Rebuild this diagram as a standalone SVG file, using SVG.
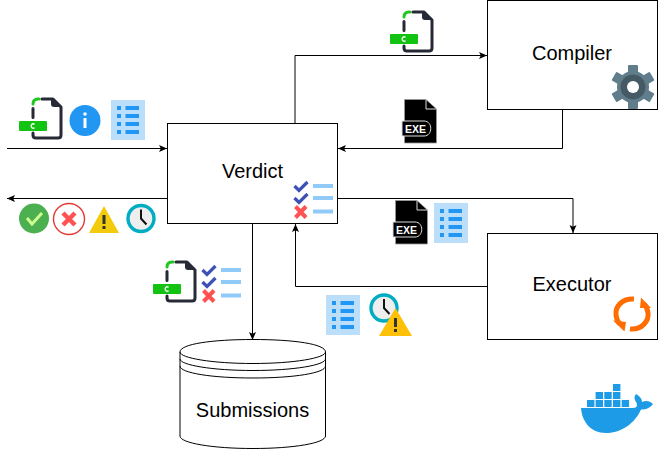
<svg xmlns="http://www.w3.org/2000/svg" width="658" height="450" viewBox="0 0 658 450">
<style>
.box{fill:#fff;stroke:#000;stroke-width:1}
.lbl{font-family:"Liberation Sans",Arial,sans-serif;font-size:20px;fill:#000;text-anchor:middle}
.conn{fill:none;stroke:#000;stroke-width:1;marker-end:url(#arrow)}
.cyl{fill:#fff;stroke:#000;stroke-width:1}
.cyl2{fill:none;stroke:#000;stroke-width:1}
</style>
<defs>
<marker id="arrow" markerUnits="userSpaceOnUse" markerWidth="10" markerHeight="10" refX="8" refY="4" orient="auto">
<path d="M0,0.5 L8,4 L0,7.5 L1.8,4 Z" fill="#000"/>
</marker>
<g id="file">
<path d="M14,6 Q14,1 19,1 H20" fill="none" stroke="#1fc71f" stroke-width="3" stroke-linecap="round"/>
<path d="M14,10.500 V19.500 M14,35 V37 Q14,40 17,40 H39 Q42,40 42,37 V9 L34,1 H23" fill="none" stroke="#262a36" stroke-width="3" stroke-linecap="round" stroke-linejoin="round"/>
<path d="M32,1 H34.500 L42.500,9 H35 Q32,9 32,6 Z" fill="#262a36"/>
<rect x="0" y="23" width="28" height="10" rx="1" fill="#12c312"/>
<path d="M15.600,26.200 A2.200,2.200 0 1 0 15.600,29.800" fill="none" stroke="#fff" stroke-width="1.300"/>
</g>
<g id="list">
<rect width="34" height="40" fill="#bbdefb"/>
<g fill="#2196f3">
<rect x="6" y="6" width="4" height="4"/><rect x="14.500" y="6" width="13.500" height="4"/>
<rect x="6" y="14" width="4" height="4"/><rect x="14.500" y="14" width="13.500" height="4"/>
<rect x="6" y="22" width="4" height="4"/><rect x="14.500" y="22" width="13.500" height="4"/>
<rect x="6" y="30" width="4" height="4"/><rect x="14.500" y="30" width="13.500" height="4"/>
</g>
</g>
<g id="checks">
<path d="M1.500,6 L6,10.500 L14.500,2 M1.500,18 L6,22.500 L14.500,14" fill="none" stroke="#3f51b5" stroke-width="3.200"/>
<path d="M2.500,26.500 L13,37.500 M13,26.500 L2.500,37.500" fill="none" stroke="#ff5252" stroke-width="4"/>
<g fill="#90caf9">
<rect x="20" y="4" width="20" height="4"/>
<rect x="20" y="16" width="20" height="4"/>
<rect x="20" y="29.500" width="20" height="4"/>
</g>
</g>
<g id="exe">
<path d="M2.500,0.500 H24 L34.500,10 V44 H2.500 Z" fill="#000" stroke="#999" stroke-width="0.800"/>
<path d="M24,0.500 V10 H34.500" fill="none" stroke="#ddd" stroke-width="1"/>
<path d="M0,22 H22 C31,22 31,37 22,37 H0 Z" fill="#000" stroke="#ddd" stroke-width="1"/>
<text x="3" y="33.800" font-family="Liberation Sans,Arial,sans-serif" font-size="10.500" font-weight="bold" fill="#fff">EXE</text>
</g>
<g id="clock">
<circle r="13" fill="#eeeeee" stroke="#00acc1" stroke-width="3.400"/>
<path d="M0,-9 V0 L5.500,6" fill="none" stroke="#111" stroke-width="2"/>
</g>
</defs>

<g id="connectors">
<path class="conn" d="M7,148.500H167"/>
<path class="conn" d="M167,198.500H7"/>
<path class="conn" d="M295,123V55.500H487"/>
<path class="conn" d="M562.500,110V148.500H338"/>
<path class="conn" d="M338,198.500H573V233"/>
<path class="conn" d="M487,286.500H295.500V224"/>
<path class="conn" d="M252.500,224V340"/>
</g>

<g id="verdict">
<rect class="box" x="167.500" y="123.500" width="170" height="100"/>
<text class="lbl" x="252.500" y="178">Verdict</text>
<use href="#checks" x="293" y="180"/>
</g>

<g id="compiler">
<rect class="box" x="487.500" y="0.500" width="170" height="109"/>
<text class="lbl" x="572" y="60">Compiler</text>
<g transform="translate(633,87)" fill="#607d8b">
<circle r="16"/>
<rect x="-5" y="-22" width="10" height="44" rx="1"/>
<rect x="-5" y="-22" width="10" height="44" rx="1" transform="rotate(60)"/>
<rect x="-5" y="-22" width="10" height="44" rx="1" transform="rotate(120)"/>
<circle r="12.500" fill="#455a64"/>
<circle r="6" fill="#fff"/>
</g>
</g>

<g id="executor">
<rect class="box" x="487.500" y="233.500" width="170" height="106"/>
<text class="lbl" x="572" y="291">Executor</text>
<g>
<path d="M634,299 C622,298 615,307 616,315 C616.500,319 618,322 620,324" fill="none" stroke="#ff6d00" stroke-width="5"/>
<path d="M613,320.500 L626,322 L624.500,331.500 Z" fill="#ff6d00"/>
<path d="M630,329 C642,330 649,321 648,313 C647.500,309 646,306 644,304" fill="none" stroke="#ff6d00" stroke-width="5"/>
<path d="M651,308 L640,308 L641,297.500 Z" fill="#ff6d00"/>
</g>
</g>

<g id="submissions">
<path class="cyl" d="M180,352 C180,344 212,339.500 253,339.500 C294,339.500 325.500,344 325.500,352 V436 C325.500,443 294,448.500 253,448.500 C212,448.500 180,443 180,436 Z"/>
<path class="cyl2" d="M180,352 C180,358 212,363.500 253,363.500 C294,363.500 325.500,358 325.500,352 M180,359 C180,365 212,370.500 253,370.500 C294,370.500 325.500,365 325.500,359 M180,366 C180,373 212,378 253,378 C294,378 325.500,373 325.500,366"/>
<text class="lbl" x="252.500" y="417">Submissions</text>
</g>

<g id="input-icons">
<use href="#file" x="19" y="98"/>
<circle cx="85" cy="120.500" r="15.500" fill="#2196f3"/>
<rect x="83.500" y="118" width="3" height="10" fill="#fff"/>
<circle cx="85" cy="114" r="1.800" fill="#fff"/>
<use href="#list" x="111" y="100"/>
</g>

<g id="output-icons">
<circle cx="34" cy="218.500" r="15" fill="#4caf50"/>
<path d="M27,218 L32,224 L42,213" fill="none" stroke="#ccff90" stroke-width="3"/>
<circle cx="69" cy="219" r="15.500" fill="#fff" stroke="#e53935" stroke-width="1.400"/>
<path d="M63,213 L75,225 M75,213 L63,225" fill="none" stroke="#ff5252" stroke-width="4.500"/>
<path d="M104,206 L119,233 H89 Z" fill="#f2cc0c"/>
<rect x="102.500" y="215" width="3" height="9" fill="#333"/>
<rect x="102.500" y="226" width="3" height="3" fill="#333"/>
<use href="#clock" x="141" y="218.500"/>
</g>

<g id="to-compiler-icon"><use href="#file" x="390" y="11"/></g>
<g id="from-compiler-icon"><use href="#exe" x="402" y="99"/></g>
<g id="to-executor-icons">
<use href="#exe" x="393" y="200"/>
<use href="#list" x="434" y="203"/>
</g>
<g id="from-executor-icons">
<use href="#list" x="326" y="295"/>
<use href="#clock" x="384" y="308"/>
<path d="M395.500,308 L412,336 H379 Z" fill="#ffc107"/>
<rect x="394" y="318" width="3" height="9" fill="#333"/>
<rect x="394" y="329" width="3" height="3" fill="#333"/>
</g>
<g id="to-db-icons">
<use href="#file" x="153" y="261"/>
<use href="#checks" x="201" y="264"/>
</g>

<g id="docker" fill="#1d9be6">
<path d="M581,408 H633 C637,408 638,405 636,402 C634,399 634,396 636,394 C640,396 642,399 642,402 C646,400 650,401 653,404 C650,408 645,410 641,409.500 C635,423 622,433 606,433 C590,433 582,421 581,408 Z"/>
<rect x="587" y="400" width="7.400" height="7"/><rect x="595.600" y="400" width="7.400" height="7"/><rect x="604.300" y="400" width="7.400" height="7"/><rect x="613" y="400" width="7.400" height="7"/><rect x="621.700" y="400" width="7.400" height="7"/>
<rect x="595.600" y="392" width="7.400" height="7"/><rect x="604.300" y="392" width="7.400" height="7"/><rect x="613" y="392" width="7.400" height="7"/>
<rect x="613" y="384" width="7.400" height="7"/>
</g>
</svg>
